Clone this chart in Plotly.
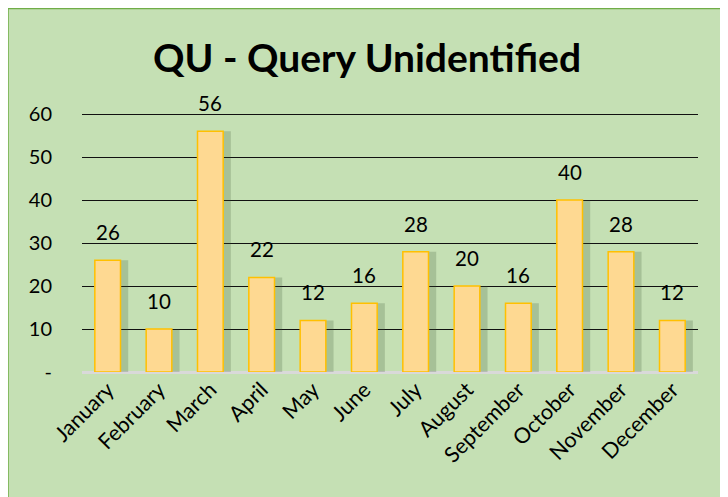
import plotly.graph_objects as go

months = ["January", "February", "March", "April", "May", "June", "July",
          "August", "September", "October", "November", "December"]
counts = [26, 10, 56, 22, 12, 16, 28, 20, 16, 40, 28, 12]
y_ticks = [0, 10, 20, 30, 40, 50, 60]
y_tick_text = ["-", "10", "20", "30", "40", "50", "60"]

FONT = "Lato"
W, H = 720, 489
L, R, T, B = 74, 30, 105, 125
PW, PH = W - L - R, H - T - B

fig = go.Figure()

# soft shadow behind bars
fig.add_trace(go.Bar(
    x=months, y=counts, width=0.6, offset=-0.2,
    marker=dict(color="rgba(60,80,50,0.22)", line=dict(width=0)),
    hoverinfo="skip", showlegend=False,
))
fig.add_trace(go.Bar(
    x=months, y=counts, width=0.5, offset=-0.25,
    marker=dict(color="#FED992", line=dict(color="#FFC000", width=1.5)),
    showlegend=False,
))

for m, v in zip(months, counts):
    fig.add_annotation(x=m, y=v, text=str(v), showarrow=False,
                       yanchor="bottom", yshift=14,
                       font=dict(family=FONT, size=20.5, color="#000"))

fig.add_shape(type="rect", xref="paper", yref="paper",
              x0=(0 - L) / PW, x1=(W - 2 - L) / PW,
              y0=-(B + 20) / PH, y1=(PH + T - 0.5) / PH,
              fillcolor="#C5E0B4", line=dict(color="#70AD47", width=1.5),
              layer="below")

fig.update_layout(
    width=W, height=H,
    margin=dict(l=L, r=R, t=T, b=B, autoexpand=False),
    paper_bgcolor="white", plot_bgcolor="rgba(0,0,0,0)",
    barmode="overlay",
    title=dict(text="<b>QU - Query Unidentified</b>", x=359 / W, xanchor="center",
               y=1 - 50 / H, yanchor="middle",
               font=dict(family=FONT, size=39, color="#000")),
    xaxis=dict(tickangle=-45, tickfont=dict(family=FONT, size=21.5, color="#000"),
               showgrid=False, showline=False, ticks="", zeroline=False,
               range=[-0.5, 11.5], automargin=False),
    yaxis=dict(range=[0, 60.25], tickvals=y_ticks, ticktext=y_tick_text,
               tickfont=dict(family=FONT, size=20, color="#000"),
               showgrid=True, gridcolor="#111", gridwidth=1,
               zeroline=True, zerolinecolor="#D9D9D9", zerolinewidth=2.5,
               showline=False, ticks="", ticklabelstandoff=29, automargin=False),
)

fig.write_html("out.html")
